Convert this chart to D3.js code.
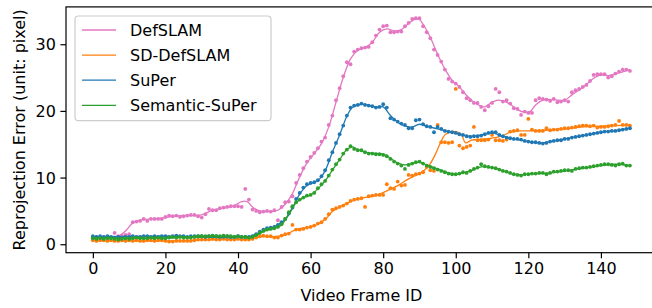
<!DOCTYPE html>
<html>
<head>
<meta charset="utf-8">
<script src="https://cdn.jsdelivr.net/npm/d3@7/dist/d3.min.js"></script>
<style>
html,body{margin:0;padding:0;background:#fff;}
svg{display:block;}
text{font-family:"DejaVu Sans",sans-serif;}
</style>
</head>
<body>
<svg id="chart" width="652" height="308"></svg>
<script>
// ---------- DATA ----------
const seriesNames = ["DefSLAM", "SD-DefSLAM", "SuPer", "Semantic-SuPer"];
const seriesColors = ["#e377c2", "#ff7f0e", "#1f77b4", "#2ca02c"];
const xTicks = [0, 20, 40, 60, 80, 100, 120, 140];
const yTicks = [0, 10, 20, 30];
const frames = d3.range(0, 149);

// per-frame measured errors
const defslamPts = [1.0,1.1,1.0,1.0,1.1,1.0,1.7,1.2,1.3,1.4,1.5,3.3,3.4,3.5,3.8,3.5,3.8,3.8,3.8,3.8,
4.1,4.3,4.2,4.3,4.1,4.2,4.3,4.4,4.4,4.2,4.0,4.5,5.3,5.1,5.1,5.4,5.5,5.6,5.7,5.7,
5.7,5.6,8.3,6.7,5.2,5.0,4.8,4.9,5.0,4.9,5.1,3.6,5.6,6.3,6.4,7.2,9.2,10.4,11.4,12.4,
13.1,13.7,14.4,15.4,16.0,17.9,19.3,21.6,23.4,25.2,27.3,27.0,28.9,29.2,29.4,29.5,29.6,30.3,31.3,32.2,
32.7,32.8,31.8,31.8,31.9,31.9,32.7,33.2,33.8,33.9,33.9,32.7,31.8,30.9,29.2,28.4,27.4,26.2,24.8,24.4,
24.1,23.6,22.8,21.9,21.6,21.2,21.2,20.6,20.1,20.7,21.2,23.3,22.8,21.4,21.6,21.1,20.4,20.3,19.4,19.9,
19.7,19.7,21.6,21.9,21.8,21.7,21.5,21.8,21.3,21.4,21.6,21.4,22.8,23.1,23.3,23.6,23.9,24.5,25.4,25.5,
25.5,25.5,25.0,25.2,25.6,25.9,26.2,26.2,26.0];

const sdDefslamPts = [0.6,0.5,0.6,0.6,0.5,0.6,0.5,0.5,0.6,0.5,0.6,0.5,0.6,0.5,0.5,0.6,0.6,0.5,0.6,0.6,
0.5,0.4,0.4,0.5,0.5,0.5,0.5,0.5,0.6,0.7,0.7,0.7,0.7,0.8,0.7,0.7,0.8,0.7,0.7,0.7,
0.8,0.7,0.7,0.7,0.8,1.0,1.2,1.3,1.2,1.2,1.0,1.0,1.3,1.5,1.6,2.9,2.2,2.2,2.3,2.5,
2.6,2.8,3.1,3.3,3.8,4.5,5.2,5.4,5.6,5.8,6.1,6.5,6.7,6.8,6.9,5.6,7.2,7.3,7.4,7.4,
7.4,9.0,8.4,8.3,9.4,8.8,8.9,10.4,10.3,10.5,10.6,10.8,11.6,11.1,11.0,17.9,15.3,15.3,15.2,15.3,
23.3,14.8,14.4,14.6,14.8,17.6,15.6,15.6,15.6,15.7,16.4,15.6,15.6,15.5,15.7,16.9,17.0,17.1,16.4,16.4,
18.8,17.2,17.0,17.0,17.0,17.4,17.1,17.2,17.2,17.3,17.4,17.4,17.5,17.6,17.7,17.8,17.8,17.7,17.8,17.5,
17.6,17.6,17.7,17.8,17.9,18.5,17.9,17.9,17.8];

const superPts = [1.2,1.1,1.2,1.1,1.2,1.1,1.0,1.1,1.0,1.1,1.1,1.2,1.1,1.1,1.2,1.2,1.1,1.2,1.1,1.2,
1.2,1.1,1.2,1.3,1.2,1.2,1.1,1.2,1.2,1.2,1.2,1.1,1.2,1.2,1.2,1.1,1.2,1.2,1.1,1.1,
1.2,1.1,1.1,1.1,1.2,1.5,1.9,2.2,2.4,2.5,2.6,2.9,3.3,3.8,4.6,5.5,6.8,7.7,8.5,9.0,
9.2,9.3,9.6,10.2,11.1,12.6,13.8,15.2,16.5,17.8,19.3,20.5,20.8,20.9,21.1,20.9,20.8,20.7,20.5,20.6,
21.0,20.5,18.9,18.7,18.4,18.1,17.9,17.4,17.4,18.6,18.7,18.0,17.7,17.6,16.8,17.6,17.3,17.0,16.9,16.8,
16.7,16.5,16.4,16.2,16.1,16.2,16.2,16.3,16.5,16.7,16.8,16.8,16.4,16.2,16.0,15.9,15.8,15.8,15.7,15.5,
15.4,15.3,15.3,15.2,15.1,15.2,15.4,15.5,15.6,15.6,15.8,15.8,16.0,16.1,16.2,16.3,16.4,16.5,16.6,16.7,
16.8,16.9,16.9,17.0,17.0,17.1,17.2,17.3,17.4];

const semSuperPts = [0.9,0.8,0.9,0.8,0.9,0.9,0.8,0.7,0.8,0.9,0.8,0.9,1.0,0.9,0.9,0.9,1.0,0.9,1.0,0.9,
0.9,1.0,1.1,1.0,1.1,1.0,1.0,1.0,1.1,1.2,1.2,1.2,1.2,1.3,1.2,1.2,1.3,1.2,1.2,1.1,
1.2,1.1,1.1,1.0,1.1,1.4,1.7,2.0,2.2,2.3,2.4,2.6,3.0,3.8,4.8,5.7,6.3,6.7,7.0,7.3,
7.4,7.7,8.4,9.0,9.5,10.3,11.2,12.0,12.7,13.6,14.2,14.7,14.3,14.1,14.1,13.8,13.6,13.6,13.5,13.5,
13.4,13.2,12.8,12.4,12.1,11.8,11.3,11.9,12.1,12.3,12.4,12.1,11.8,11.6,11.4,11.2,11.0,10.8,10.6,10.5,
10.5,10.6,10.8,10.7,11.0,11.3,11.5,12.0,11.7,11.6,11.5,11.4,11.2,11.0,10.9,10.7,10.5,10.4,10.3,10.5,
10.5,10.6,10.6,10.7,10.7,10.5,10.7,10.9,10.9,11.0,11.1,11.1,11.0,11.3,11.4,11.5,11.5,11.6,11.7,11.8,
11.9,12.0,12.0,11.9,11.8,12.0,12.1,11.8,11.8];

// smoothed fit curves (frame, value)
const defslamFitX = [0,5,7,9,11,13,16,19,22,26,30,33,36,39,41,42.5,44,46,49,51,53,55,57,59,61,63,65,67,69,71,73,75,77,79,81,83,85,87,89,90,91,93,95,97,99,101,103,105,107,108,110,111.5,113,115,117,119,120.5,122,124,127,130,132,135,138,140,142,145,148];
const defslamFitY = [1.0,1.05,1.2,2.0,3.2,3.6,3.8,3.9,4.2,4.3,4.4,5.1,5.4,5.8,6.4,6.4,5.6,5.0,4.9,5.1,6.0,7.6,10.1,12.2,13.6,15.1,17.6,21.3,25.0,27.8,29.1,29.5,30.3,31.8,32.3,32.0,32.2,33.1,33.8,33.7,33.0,31.0,28.5,26.3,24.6,23.6,22.3,21.3,20.7,20.6,21.3,21.6,21.5,21.0,20.2,19.8,19.9,20.9,21.6,21.7,21.6,22.4,23.5,24.9,25.4,25.3,25.7,26.2];
const sdDefslamFitX = [0,20,28,35,43,46,50,53,56,60,62,64,66,68,71,74,78,81,84,87,90,92,93,94.3,95.7,97,98.5,100,101.5,102.7,104.3,106,110,113,115,118,120,125,130,135,140,144,148];
const sdDefslamFitY = [0.55,0.5,0.6,0.75,0.75,1.1,1.15,1.4,2.2,2.6,3.0,3.7,4.9,5.6,6.4,6.9,7.3,8.0,8.8,9.8,10.6,11.4,12.1,13.4,15.1,16.4,16.8,16.9,16.5,15.2,15.6,15.7,15.9,16.3,16.8,17.0,17.0,17.1,17.3,17.6,17.7,17.8,17.9];
const superFitX = [0,20,43,46,50,53,55,57,59,61,62.5,64,66,68,70,71.5,74,78,80,82,84,86,88,90,92,95,98,101,104,107,110,113,116,120,124,127,130,135,140,145,148];
const superFitY = [1.15,1.2,1.15,1.8,2.6,3.7,5.4,7.5,8.8,9.3,9.8,11.0,13.8,16.4,19.2,20.5,21.0,20.6,20.6,19.3,18.3,17.7,17.6,18.0,17.7,17.3,16.9,16.5,16.2,16.4,16.7,16.2,15.8,15.4,15.2,15.5,15.8,16.3,16.8,17.1,17.4];
const semSuperFitX = [0,10,20,30,40,44,47,50,52,54,56,58,60,62,64,66,68,70,71.5,73,76,80,82,84,86,88,90,92,95,98,100,102,104,107,110,113,116,118,122,126,130,135,140,144,148];
const semSuperFitY = [0.9,0.9,0.95,1.15,1.15,1.1,1.9,2.4,2.9,4.6,6.2,7.0,7.4,8.3,9.5,11.1,12.7,14.2,14.6,14.2,13.7,13.5,12.9,12.2,11.9,12.1,12.3,11.9,11.3,10.7,10.5,10.7,11.0,11.6,11.5,11.0,10.5,10.4,10.6,10.7,11.0,11.4,11.8,12.0,11.8];

// ---------- CHART ----------
const svg = d3.select("#chart");
const plotL = 66, plotR = 656.8, plotT = 6.9, plotB = 252.7;

const x = d3.scaleLinear().domain([-7.4, 155.4]).range([plotL, plotR]);
const y = d3.scaleLinear().domain([-1.27, 35.6]).range([plotB, plotT]);

const pts = [defslamPts, sdDefslamPts, superPts, semSuperPts];
const fitX = [defslamFitX, sdDefslamFitX, superFitX, semSuperFitX];
const fitY = [defslamFitY, sdDefslamFitY, superFitY, semSuperFitY];

svg.append("clipPath").attr("id", "clip").append("rect")
  .attr("x", plotL).attr("y", plotT).attr("width", plotR - plotL).attr("height", plotB - plotT);
const plot = svg.append("g").attr("clip-path", "url(#clip)");

const line = d3.line().x(d => x(d[0])).y(d => y(d[1])).curve(d3.curveCatmullRom.alpha(0.5));

seriesNames.forEach((name, i) => {
  const g = plot.append("g");
  const fit = fitX[i].map((fx, k) => [fx, fitY[i][k]]);
  g.append("path").datum(fit)
    .attr("d", line)
    .attr("fill", "none")
    .attr("stroke", seriesColors[i])
    .attr("stroke-width", 1.3);
  g.selectAll("circle").data(frames.map((f, k) => [f, pts[i][k]]))
    .enter().append("circle")
    .attr("cx", d => x(d[0]))
    .attr("cy", d => y(d[1]))
    .attr("r", 1.9)
    .attr("fill", seriesColors[i]);
});

// axes
const xAxis = d3.axisBottom(x).tickValues(xTicks).tickSize(5.6).tickPadding(4.5).tickFormat(d3.format("d"));
const yAxis = d3.axisLeft(y).tickValues(yTicks).tickSize(5.6).tickPadding(4.5).tickFormat(d3.format("d"));

const gx = svg.append("g").attr("transform", `translate(0,${plotB})`).call(xAxis);
const gy = svg.append("g").attr("transform", `translate(${plotL},0)`).call(yAxis);
[gx, gy].forEach(g => {
  g.select(".domain").remove();
  g.selectAll(".tick line").attr("stroke", "#000").attr("stroke-width", 1.2);
  g.selectAll(".tick text").attr("font-size", 16).attr("fill", "#000")
    .attr("font-family", "DejaVu Sans");
});
gy.selectAll(".tick text").attr("dy", "0.36em");

// spines (box)
svg.append("rect")
  .attr("x", plotL).attr("y", plotT)
  .attr("width", plotR - plotL).attr("height", plotB - plotT)
  .attr("fill", "none").attr("stroke", "#000").attr("stroke-width", 1.2);

// axis labels
svg.append("text")
  .attr("x", (plotL + plotR) / 2).attr("y", 301)
  .attr("text-anchor", "middle").attr("font-size", 16).attr("fill", "#000")
  .text("Video Frame ID");
svg.append("text")
  .attr("transform", `translate(25,${(plotT + plotB) / 2}) rotate(-90)`)
  .attr("text-anchor", "middle").attr("font-size", 16).attr("fill", "#000")
  .text("Reprojection Error (unit: pixel)");

// legend
const lg = svg.append("g");
lg.append("rect")
  .attr("x", 75).attr("y", 16).attr("width", 196).attr("height", 104.7)
  .attr("rx", 3.5).attr("ry", 3.5)
  .attr("fill", "#fff").attr("fill-opacity", 0.8)
  .attr("stroke", "#cccccc").attr("stroke-width", 1.2);
seriesNames.forEach((name, i) => {
  const yy = 30 + i * 25.1;
  lg.append("line")
    .attr("x1", 82).attr("x2", 116).attr("y1", yy).attr("y2", yy)
    .attr("stroke", seriesColors[i]).attr("stroke-width", 1.3);
  lg.append("text")
    .attr("x", 130).attr("y", yy + 5.8)
    .attr("font-size", 16).attr("fill", "#000")
    .text(name);
});
</script>
</body>
</html>
